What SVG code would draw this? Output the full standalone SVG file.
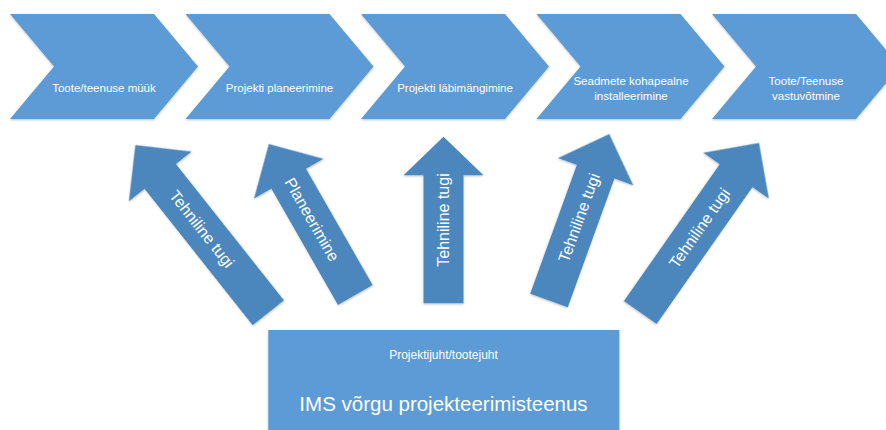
<svg xmlns="http://www.w3.org/2000/svg" width="886" height="430" viewBox="0 0 886 430">
  <defs>
    <filter id="soft" x="-10%" y="-10%" width="120%" height="130%">
      <feDropShadow dx="0" dy="1" stdDeviation="1.2" flood-color="#000" flood-opacity="0.25"/>
    </filter>
    <path id="chev" d="M0,14 L144,14 L188,66.5 L144,119 L0,119 L44,66.5 Z"/>
  </defs>
  <style>
    .chev { fill: #5B9BD5; filter: url(#soft); }
    .arrow { fill: #4C87BD; filter: url(#soft); }
    .box { fill: #5B9BD5; filter: url(#soft); }
    .lbl { font-family: "Liberation Sans", Arial, sans-serif; fill: #FFFFFF; text-anchor: middle; }
    .small { font-size: 11.5px; }
    .arr { font-size: 16px; }
  </style>
  <rect width="886" height="430" fill="#FFFFFF"/>

  <!-- process chevrons -->
  <g id="step1">
    <use href="#chev" class="chev" transform="translate(10,0)"/>
    <text class="lbl small" x="104" y="92">Toote/teenuse müük</text>
  </g>
  <g id="step2">
    <use href="#chev" class="chev" transform="translate(185.5,0)"/>
    <text class="lbl small" x="279.5" y="92">Projekti planeerimine</text>
  </g>
  <g id="step3">
    <use href="#chev" class="chev" transform="translate(361,0)"/>
    <text class="lbl small" x="455" y="92">Projekti läbimängimine</text>
  </g>
  <g id="step4">
    <use href="#chev" class="chev" transform="translate(536.5,0)"/>
    <text class="lbl small" x="631" y="85">Seadmete kohapealne</text>
    <text class="lbl small" x="631" y="100">installeerimine</text>
  </g>
  <g id="step5">
    <use href="#chev" class="chev" transform="translate(712,0)"/>
    <text class="lbl small" x="806" y="85">Toote/Teenuse</text>
    <text class="lbl small" x="806" y="100">vastuvõtmine</text>
  </g>

  <!-- support arrows -->
  <g id="connectors">
    <g id="support1" transform="translate(268.3,312.8) rotate(-38.4)">
      <path class="arrow" d="M-20,0 L-20,-174 L-40,-174 L0,-214 L40,-174 L20,-174 L20,0 Z"/>
      <text class="lbl arr" transform="translate(0,-107) rotate(90)" dy="0.35em">Tehniline tugi</text>
    </g>
    <g id="support2" transform="translate(355.3,295) rotate(-29.8)">
      <path class="arrow" d="M-20,0 L-20,-134 L-40,-134 L0,-174 L40,-134 L20,-134 L20,0 Z"/>
      <text class="lbl arr" transform="translate(0,-87) rotate(90)" dy="0.35em">Planeerimine</text>
    </g>
    <g id="support3" transform="translate(443.5,303.3)">
      <path class="arrow" d="M-20,0 L-20,-128 L-40,-128 L0,-166.6 L40,-128 L20,-128 L20,0 Z"/>
      <text class="lbl arr" transform="translate(0,-83.3) rotate(-90)" dy="0.35em">Tehniline tugi</text>
    </g>
    <g id="support4" transform="translate(549,300.5) rotate(19.9)">
      <path class="arrow" d="M-20,0 L-20,-137 L-40,-137 L0,-177 L40,-137 L20,-137 L20,0 Z"/>
      <text class="lbl arr" transform="translate(0,-88) rotate(-90)" dy="0.35em">Tehniline tugi</text>
    </g>
    <g id="support5" transform="translate(640.3,312.5) rotate(35)">
      <path class="arrow" d="M-20,0 L-20,-167 L-40,-167 L0,-207 L40,-167 L20,-167 L20,0 Z"/>
      <text class="lbl arr" transform="translate(0,-103) rotate(-90)" dy="0.35em">Tehniline tugi</text>
    </g>
  </g>

  <!-- service box -->
  <g id="service">
    <rect class="box" x="268.3" y="330" width="351" height="110"/>
    <text class="lbl" x="443.5" y="359" font-size="12px">Projektijuht/tootejuht</text>
    <text class="lbl" x="443.5" y="411" font-size="20.5px">IMS võrgu projekteerimisteenus</text>
  </g>
</svg>
